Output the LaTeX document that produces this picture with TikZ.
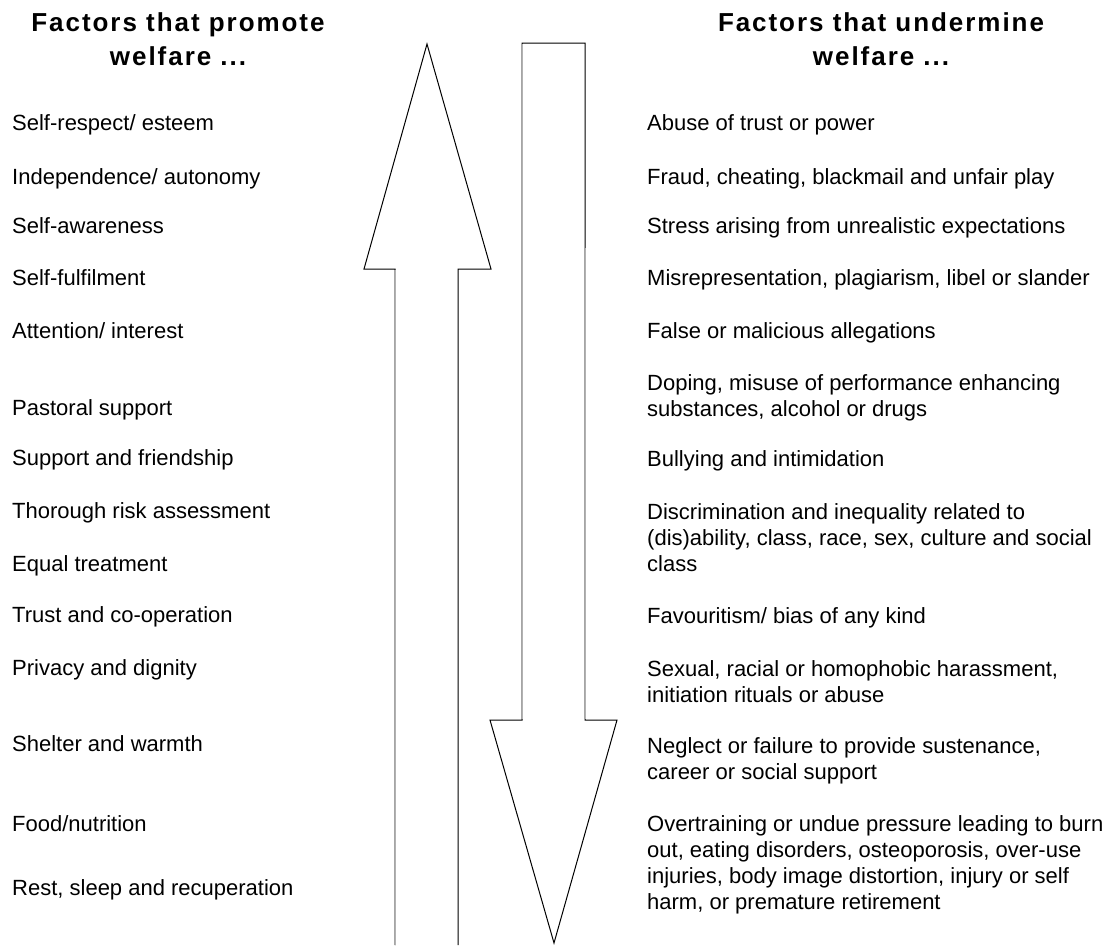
\documentclass[tikz,border=0pt]{standalone}
\usepackage{fontspec}
\setmainfont{Liberation Sans}
\newfontfamily\headfont[LetterSpace=7.5]{Liberation Sans}

\tikzset{
  heading/.style={font=\headfont\bfseries\fontsize{26}{34}\selectfont, align=center, anchor=base, inner sep=0pt},
  factor/.style={font=\fontsize{22}{26}\selectfont, align=left, anchor=base west, inner sep=0pt},
  outline/.style={line width=1pt, black},
  shade/.style={line width=1pt, black!30},
}

\begin{document}
\begin{tikzpicture}[x=1pt,y=-1pt]
	\useasboundingbox (0,0) rectangle (1118,945);
	
	% Headings (anchored at the baseline of the last line)
	\node[heading] (hpro) at (178,65) {Factors that promote\\welfare ...};
	\node[heading] (hund) at (881,65) {Factors that undermine\\welfare ...};
	
	% Up arrow
	\draw[outline] (395,945) -- (395,269) -- (364,269) -- (427,44) -- (491,269) -- (458,269) -- (458,945);
	\draw[shade] (395,945) -- (395,270);
	
	% Down arrow
	\draw[outline] (522,43) -- (585,43) -- (585,720) -- (617,720) -- (554,943) -- (490,720) -- (522,720) -- cycle;
	\draw[shade] (522,44) -- (522,719);
	\draw[shade] (585,248) -- (585,719);
	
	% Promoting factors
	\node[factor] (pro1) at (12,130) {Self-respect/ esteem};
	\node[factor] (pro2) at (12,184) {Independence/ autonomy};
	\node[factor] (pro3) at (12,233) {Self-awareness};
	\node[factor] (pro4) at (12,285) {Self-fulfilment};
	\node[factor] (pro5) at (12,338) {Attention/ interest};
	\node[factor] (pro6) at (12,415) {Pastoral support};
	\node[factor] (pro7) at (12,465) {Support and friendship};
	\node[factor] (pro8) at (12,518) {Thorough risk assessment};
	\node[factor] (pro9) at (12,571) {Equal treatment};
	\node[factor] (pro10) at (12,622) {Trust and co-operation};
	\node[factor] (pro11) at (12,675) {Privacy and dignity};
	\node[factor] (pro12) at (12,751) {Shelter and warmth};
	\node[factor] (pro13) at (12,831) {Food/nutrition};
	\node[factor] (pro14) at (12,895) {Rest, sleep and recuperation};
	
	% Undermining factors (multi-line ones sit on their last line)
	\node[factor] (und1) at (647,130) {Abuse of trust or power};
	\node[factor] (und2) at (647,184) {Fraud, cheating, blackmail and unfair play};
	\node[factor] (und3) at (647,233) {Stress arising from unrealistic expectations};
	\node[factor] (und4) at (647,285) {Misrepresentation, plagiarism, libel or slander};
	\node[factor] (und5) at (647,338) {False or malicious allegations};
	\node[factor] (und6) at (647,416) {Doping, misuse of performance enhancing\\substances, alcohol or drugs};
	\node[factor] (und7) at (647,466) {Bullying and intimidation};
	\node[factor] (und8) at (647,571) {Discrimination and inequality related to\\(dis)ability, class, race, sex, culture and social\\class};
	\node[factor] (und9) at (647,623) {Favouritism/ bias of any kind};
	\node[factor] (und10) at (647,702) {Sexual, racial or homophobic harassment,\\initiation rituals or abuse};
	\node[factor] (und11) at (647,779) {Neglect or failure to provide sustenance,\\career or social support};
	\node[factor] (und12) at (647,909) {Overtraining or undue pressure leading to burn\\out, eating disorders, osteoporosis, over-use\\injuries, body image distortion, injury or self\\harm, or premature retirement};
\end{tikzpicture}
\end{document}
